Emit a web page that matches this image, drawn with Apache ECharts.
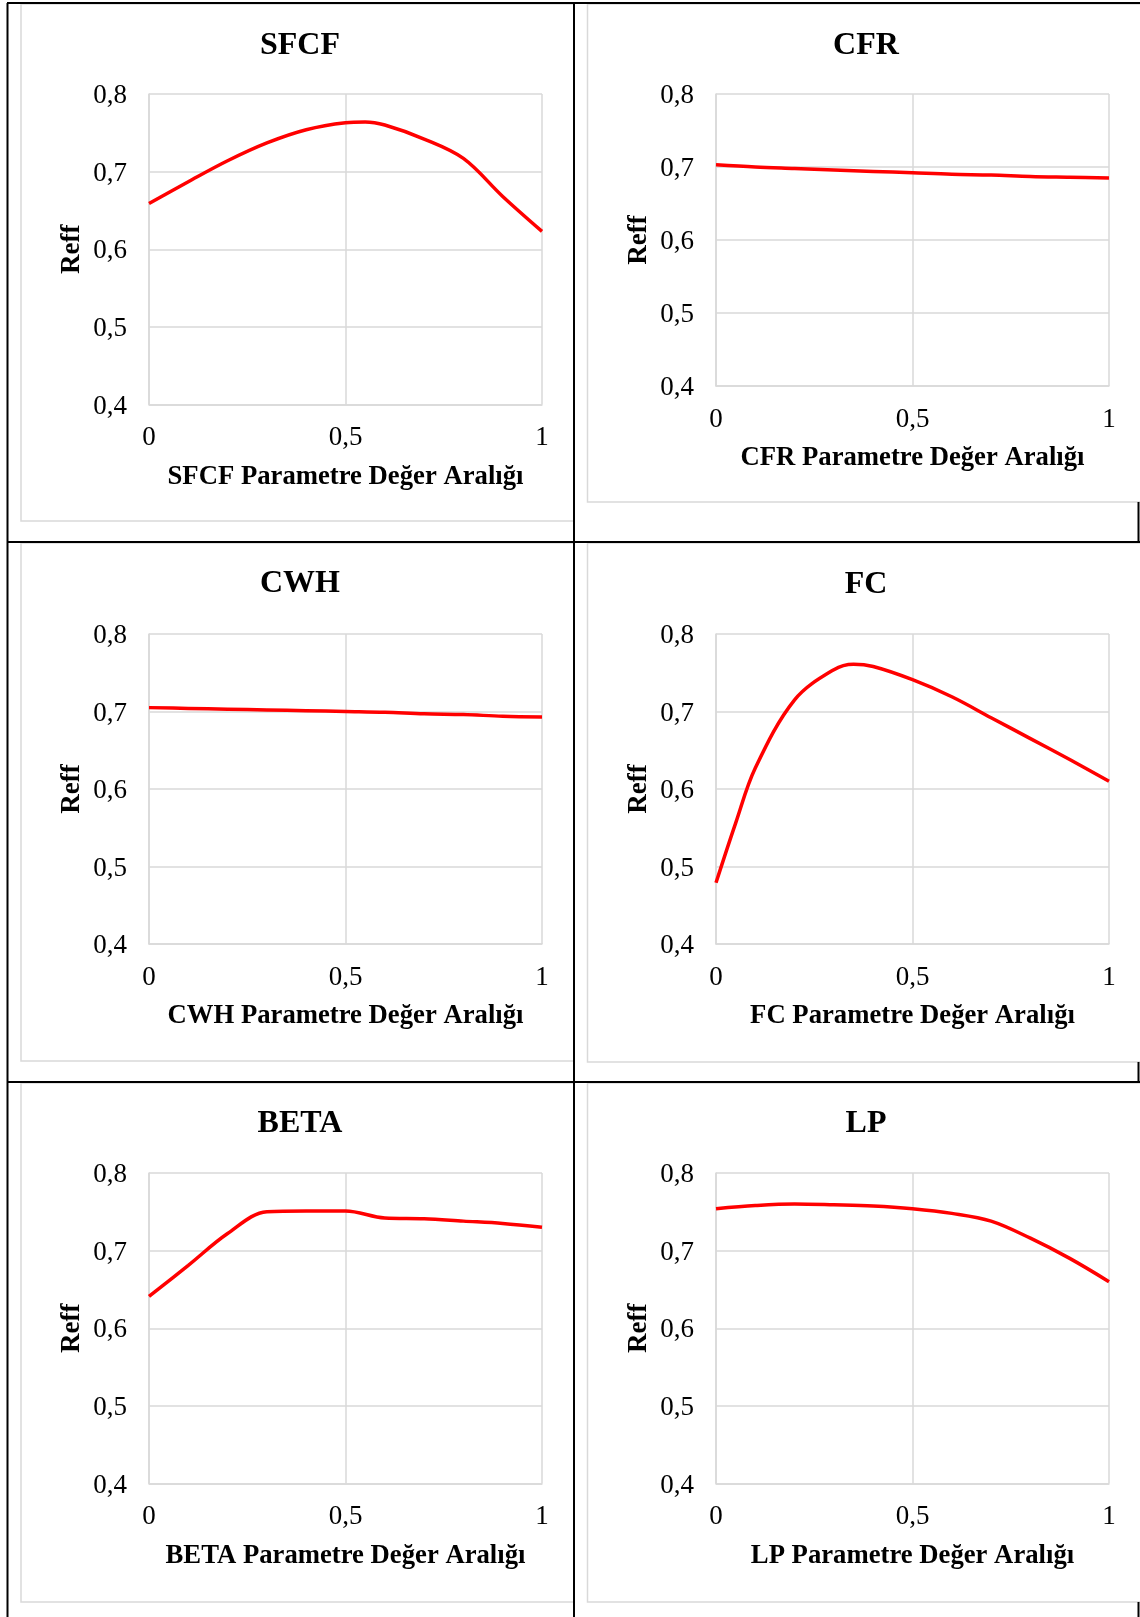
<!DOCTYPE html>
<html>
<head>
<meta charset="utf-8">
<title>Reff – Parametre Değer Aralığı</title>
<script src="https://cdn.jsdelivr.net/npm/echarts@6/dist/echarts.min.js"></script>
<style>
  html, body { margin: 0; padding: 0; background: #ffffff; }
  #chart { width: 1140px; height: 1617px; }
</style>
</head>
<body>
<div id="chart"></div>
<script>
// Parameter value steps along each x axis
const paramSteps = [0, 0.1, 0.2, 0.3, 0.4, 0.5, 0.6, 0.7, 0.8, 0.9, 1];
const sfcfSteps  = [0, 0.1, 0.2, 0.3, 0.4, 0.5, 0.55, 0.6, 0.7, 0.8, 0.9, 1];
const fcSteps    = [0, 0.05, 0.1, 0.2, 0.3, 0.35, 0.4, 0.5, 0.6, 0.7, 0.8, 0.9, 1];

// Reff values for each parameter sweep
const sfcfReff = [0.659, 0.687, 0.714, 0.737, 0.754, 0.763, 0.764, 0.760, 0.742, 0.717, 0.668, 0.623];
const cfrReff  = [0.703, 0.700, 0.698, 0.696, 0.694, 0.692, 0.690, 0.689, 0.687, 0.686, 0.685];
const cwhReff  = [0.705, 0.704, 0.703, 0.702, 0.701, 0.700, 0.699, 0.697, 0.696, 0.694, 0.693];
const fcReff   = [0.479, 0.556, 0.627, 0.715, 0.754, 0.761, 0.758, 0.741, 0.719, 0.692, 0.665, 0.638, 0.610];
const betaReff = [0.641, 0.681, 0.722, 0.750, 0.751, 0.751, 0.742, 0.741, 0.738, 0.735, 0.730];
const lpReff   = [0.754, 0.758, 0.760, 0.759, 0.7575, 0.754, 0.748, 0.738, 0.716, 0.690, 0.660];

// Panel names and axis texts
const panelNames  = ['SFCF', 'CFR', 'CWH', 'FC', 'BETA', 'LP'];
const panelSteps  = [sfcfSteps, paramSteps, paramSteps, fcSteps, paramSteps, paramSteps];
const panelSeries = [sfcfReff, cfrReff, cwhReff, fcReff, betaReff, lpReff];
const yAxisName = 'Reff';
const xAxisSuffix = ' Parametre Değer Aralığı';
const yTicks = { min: 0.4, max: 0.8, step: 0.1 };
const xTicks = { min: 0, max: 1, step: 0.5 };

// Layout of the six panels (pixels)
const panelLayout = [
  { grid: { left: 149, top: 94,   width: 393, height: 310.5 }, titleX: 300, titleY: 45.5 },
  { grid: { left: 716, top: 94,   width: 393, height: 292 },   titleX: 866, titleY: 45.5 },
  { grid: { left: 149, top: 634,  width: 393, height: 310 },   titleX: 300, titleY: 584 },
  { grid: { left: 716, top: 634,  width: 393, height: 310 },   titleX: 866, titleY: 585 },
  { grid: { left: 149, top: 1173, width: 393, height: 310.5 }, titleX: 300, titleY: 1124 },
  { grid: { left: 716, top: 1173, width: 393, height: 310.5 }, titleX: 866, titleY: 1124 }
];

const FONT = '"Liberation Serif", "Times New Roman", serif';
const GRID_GRAY = '#d9d9d9';
const LINE_RED = '#ff0000';

const toComma = v => String(+v.toFixed(2)).replace('.', ',');

const grids = [], xAxes = [], yAxes = [], series = [], titles = [];

panelNames.forEach((name, i) => {
  const lay = panelLayout[i];
  grids.push(Object.assign({ containLabel: false }, lay.grid));
  titles.push({
    text: name,
    left: lay.titleX,
    top: lay.titleY,
    textAlign: 'center',
    textVerticalAlign: 'middle',
    padding: 0,
    textStyle: { fontFamily: FONT, fontWeight: 'bold', fontSize: 32, color: '#000' }
  });
  xAxes.push({
    type: 'value',
    gridIndex: i,
    min: xTicks.min, max: xTicks.max, interval: xTicks.step,
    name: name + xAxisSuffix,
    nameLocation: 'middle',
    nameGap: 59,
    nameTextStyle: { fontFamily: FONT, fontWeight: 'bold', fontSize: 26.7, color: '#000' },
    axisLine: { show: true, lineStyle: { color: GRID_GRAY, width: 1.5 } },
    axisTick: { show: false },
    splitLine: { show: true, lineStyle: { color: GRID_GRAY, width: 1.5 } },
    axisLabel: { margin: 20, fontFamily: FONT, fontSize: 27, color: '#000', formatter: toComma }
  });
  yAxes.push({
    type: 'value',
    gridIndex: i,
    min: yTicks.min, max: yTicks.max, interval: yTicks.step,
    name: yAxisName,
    nameLocation: 'middle',
    nameRotate: 90,
    nameGap: 63,
    nameTextStyle: { fontFamily: FONT, fontWeight: 'bold', fontSize: 27, color: '#000' },
    axisLine: { show: true, lineStyle: { color: GRID_GRAY, width: 1.5 } },
    axisTick: { show: false },
    splitLine: { show: true, lineStyle: { color: GRID_GRAY, width: 1.5 } },
    axisLabel: {
      margin: 22, color: '#000',
      formatter: v => '{t|' + v.toFixed(1).replace('.', ',') + '}',
      rich: { t: { fontFamily: FONT, fontSize: 27, color: '#000', padding: [4, 0, 0, 0] } }
    }
  });
  series.push({
    type: 'line',
    name: name,
    xAxisIndex: i,
    yAxisIndex: i,
    data: panelSteps[i].map((x, k) => [x, panelSeries[i][k]]),
    smooth: 0.35,
    showSymbol: false,
    lineStyle: { color: LINE_RED, width: 3.5 },
    itemStyle: { color: LINE_RED },
    silent: true,
    animation: false
  });
});

// Chart frames (light gray) and table rules (black)
const boxStyle = { stroke: GRID_GRAY, lineWidth: 1.5, fill: null };
const ruleStyle = { stroke: '#000', lineWidth: 2 };
const frames = [
  [21, 4, 553, 517], [587.5, 4, 570, 498],
  [21, 543, 553, 518], [587.5, 543, 570, 519],
  [21, 1083, 553, 519], [587.5, 1083, 570, 519]
].map(r => ({ type: 'rect', z: 1, shape: { x: r[0], y: r[1], width: r[2], height: r[3] }, style: boxStyle }));
const rules = [
  [7, 3, 1140, 3], [7.5, 3, 7.5, 1617], [574, 3, 574, 1617],
  [7, 542, 1140, 542], [7, 1082, 1140, 1082],
  [1138.5, 502, 1138.5, 542], [1138.5, 1062, 1138.5, 1082], [1138.5, 1602, 1138.5, 1617]
].map(l => ({ type: 'line', z: 100, shape: { x1: l[0], y1: l[1], x2: l[2], y2: l[3] }, style: ruleStyle }));

const chart = echarts.init(document.getElementById('chart'), null, { renderer: 'canvas' });
chart.setOption({
  backgroundColor: '#ffffff',
  animation: false,
  title: titles,
  grid: grids,
  xAxis: xAxes,
  yAxis: yAxes,
  series: series,
  graphic: { elements: frames.concat(rules) }
});
</script>
</body>
</html>
